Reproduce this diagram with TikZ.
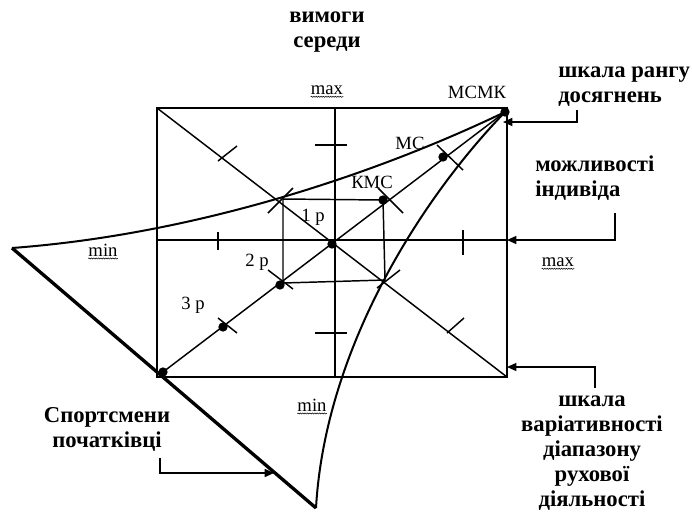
\documentclass[tikz,border=0pt]{standalone}
\usepackage{fontspec}
\setmainfont{Liberation Serif}
\usetikzlibrary{arrows.meta,decorations.pathmorphing}
\begin{document}
\begin{tikzpicture}[x=0.75pt,y=-0.75pt,
  ln/.style={line width=1.1pt},
  crv/.style={line width=1.5pt},
  heavy/.style={line width=2.5pt},
  tk/.style={line width=1.1pt},
  dotn/.style={circle,fill=black,inner sep=0pt,minimum size=7pt},
  lbl/.style={font=\fontsize{14}{16}\selectfont,inner sep=0pt},
  blbl/.style={font=\fontsize{17}{18.75}\selectfont\bfseries,inner sep=0pt},
  lead/.style={line width=1.1pt,-{Triangle[length=7pt,width=6pt]}},
  squig/.style={decorate,decoration={snake,amplitude=0.4pt,segment length=1.8pt},line width=0.4pt}
]
\useasboundingbox (0,0) rectangle (692,512);
% main points
\coordinate (TL) at (157,108);
\coordinate (TR) at (507,108);
\coordinate (BR) at (507,377);
\coordinate (BL) at (157,377);
\coordinate (L) at (12,248);
\coordinate (B) at (316,508);
\coordinate (T) at (505,112);
\coordinate (VT) at (335,108);
\coordinate (VB) at (335,377);
\coordinate (HL) at (157,240);
\coordinate (HR) at (507,240);
\coordinate (P1) at (283,199);
\coordinate (P3) at (385,280);
\coordinate (P4) at (283,283);
% rectangle and axes
\draw[ln] (TL) rectangle (BR);
\draw[ln] (TL) -- (BR);
\draw[ln] (VT) -- (VB);
\draw[ln] (HL) -- (HR);
% dots on rank diagonal
\node[dotn] (d0) at (163,372) {};
\node[dotn] (d3) at (223,327) {};
\node[dotn] (d2) at (280,285) {};
\node[dotn] (dc) at (332,244) {};
\node[dotn] (dk) at (383,200) {};
\node[dotn] (dm) at (443,157) {};
\node[dotn] (dT) at (505,112) {};
\draw[ln] (d0.center) -- (dT.center);
% inner square
\draw[ln] (P1) -- (dk.center) -- (P3) -- (P4) -- (P1);
% curves and bold edge
\draw[crv] (L) .. controls (200,234) and (380,172) .. (T);
\draw[crv] (B) .. controls (325,350) and (420,200) .. (T);
\draw[heavy] (L) -- (B);
% ticks on diagonals
\draw[tk] (218,161) -- (237,146);
\draw[tk] (447,333) -- (464,318);
\draw[tk] (268,213) -- (293,188);
\draw[tk] (377,288) -- (400,270);
\draw[tk] (218,318) -- (237,333);
\draw[tk] (268,270) -- (293,289);
\draw[tk] (378,188) -- (403,213);
\draw[tk] (437,145) -- (463,170);
% ticks on axes
\draw[tk] (315,145) -- (347,145);
\draw[tk] (315,333) -- (347,333);
\draw[tk] (218,232) -- (218,250);
\draw[tk] (463,230) -- (463,255);
% regular labels
\node[lbl] (maxtop) at (327,90) {max};
\node[lbl] (maxright) at (558,262) {max};
\node[lbl] (minleft) at (103,250) {min};
\node[lbl] (minbot) at (312,405) {min};
\draw[squig] ([yshift=-1.5pt]maxtop.south west) -- ([yshift=-1.5pt]maxtop.south east);
\draw[squig] ([yshift=-1.5pt]maxright.south west) -- ([yshift=-1.5pt]maxright.south east);
\draw[squig] ([yshift=-1.5pt]minleft.south west) -- ([yshift=-1.5pt]minleft.south east);
\draw[squig] ([yshift=-1.5pt]minbot.south west) -- ([yshift=-1.5pt]minbot.south east);
\node[lbl] (msmk) at (477,92) {МСМК};
\node[lbl] (ms) at (410,143) {МС};
\node[lbl] (kms) at (372,182) {КМС};
\node[lbl] (r1) at (313,217) {1 р};
\node[lbl] (r2) at (257,262) {2 р};
\node[lbl] (r3) at (193,305) {3 р};
% bold labels
\node[blbl,align=center] (env) at (327,32) {вимоги\\середи};
\node[blbl,align=left,anchor=west] (rank) at (558,87) {шкала рангу\\досягнень};
\node[blbl,align=left,anchor=west] (indiv) at (535,178) {можливості\\індивіда};
\node[blbl,align=center] (var) at (592,453) {шкала\\варіативності\\діапазону\\рухової\\діяльності};
\node[blbl,align=center] (sport) at (107,429) {Спортсмени\\початківці};
% leaders
\coordinate (rk) at (577,110);
\coordinate (rkE) at (503,122);
\draw[lead] (rk) |- (rkE);
\coordinate (in) at (615,213);
\draw[lead] (in) |- (HR);
\coordinate (va) at (595,388);
\coordinate (vaE) at (507,367);
\draw[lead] (va) |- (vaE);
\coordinate (sp) at (160,458);
\coordinate (spE) at (274,473);
\draw[lead] (sp) |- (spE);
\end{tikzpicture}
\end{document}
